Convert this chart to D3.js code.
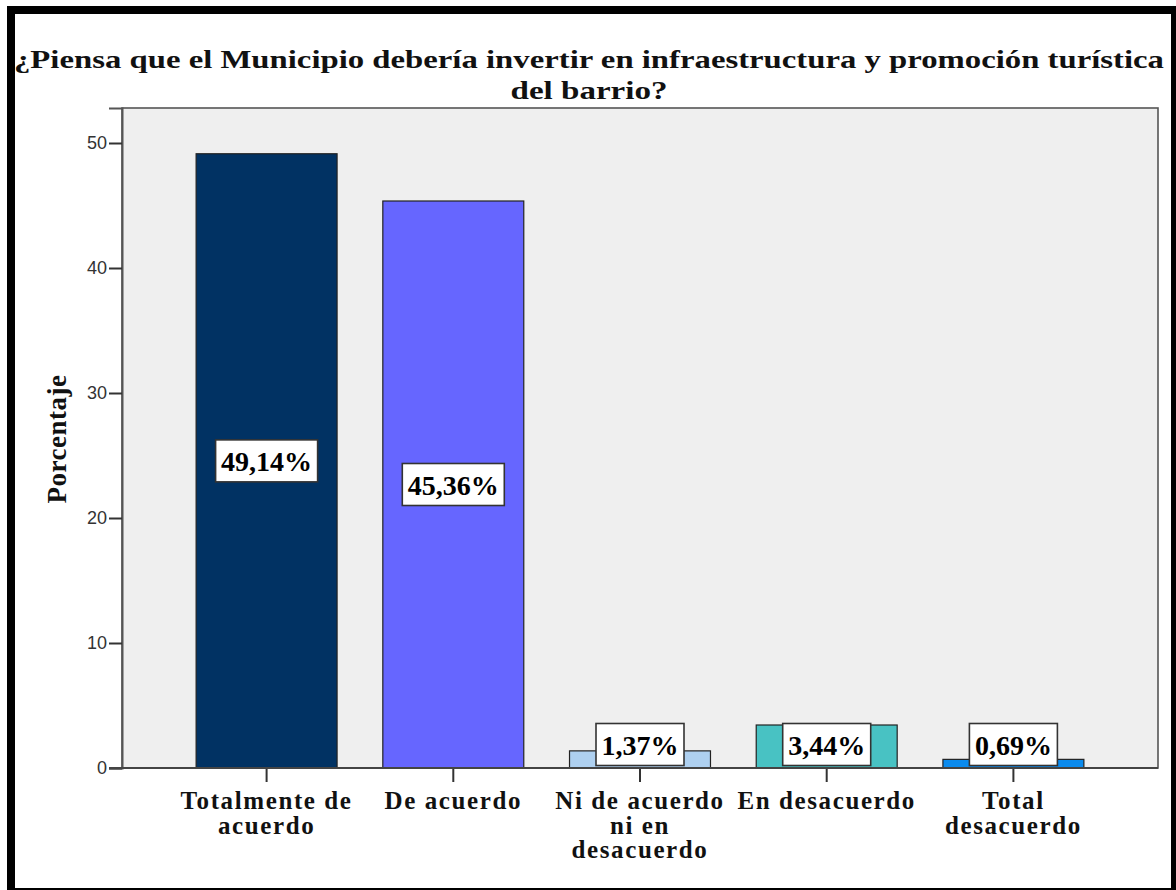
<!DOCTYPE html>
<html>
<head>
<meta charset="utf-8">
<script src="https://cdn.jsdelivr.net/npm/d3@7"></script>
<style>
  html, body { margin: 0; padding: 0; background: #fff; }
  svg { display: block; }
</style>
</head>
<body>
<svg id="chart" width="1176" height="890"></svg>
<script>
// Survey answers and their shares (%)
const categories = [
  ["Totalmente de", "acuerdo"],
  ["De acuerdo"],
  ["Ni de acuerdo", "ni en", "desacuerdo"],
  ["En desacuerdo"],
  ["Total", "desacuerdo"]
];
const values = [49.14, 45.36, 1.37, 3.44, 0.69];
const valueLabels = ["49,14%", "45,36%", "1,37%", "3,44%", "0,69%"];
const barColors = ["#013263", "#6666ff", "#aed0f0", "#48c2c3", "#0b8bee"];
const yTicks = [0, 10, 20, 30, 40, 50];
const titleLines = [
  "¿Piensa que el Municipio debería invertir en infraestructura y promoción turística",
  "del barrio?"
];
const yTitle = "Porcentaje";

const svg = d3.select("#chart");
const W = 1176, H = 890;
const plot = { left: 122, right: 1158, top: 108, bottom: 768 };
const serif = "'Liberation Serif', 'Times New Roman', serif";

// page frame
svg.append("rect").attr("x", 0).attr("y", 0).attr("width", W).attr("height", H).attr("fill", "#fff");
svg.append("rect").attr("x", 7).attr("y", 6).attr("width", W - 7).attr("height", 8).attr("fill", "#000");
svg.append("rect").attr("x", 7).attr("y", 6).attr("width", 8).attr("height", H - 6).attr("fill", "#000");
svg.append("rect").attr("x", 1171).attr("y", 6).attr("width", 5).attr("height", H - 6).attr("fill", "#000");
svg.append("rect").attr("x", 7).attr("y", 888).attr("width", W - 7).attr("height", 2).attr("fill", "#000");

// title (two lines)
svg.append("text")
  .attr("x", 589).attr("y", 68)
  .attr("text-anchor", "middle")
  .attr("font-family", serif).attr("font-weight", "bold").attr("font-size", 26)
  .attr("textLength", 1150).attr("lengthAdjust", "spacingAndGlyphs")
  .attr("fill", "#111")
  .text(titleLines[0]);
svg.append("text")
  .attr("x", 589).attr("y", 98.5)
  .attr("text-anchor", "middle")
  .attr("font-family", serif).attr("font-weight", "bold").attr("font-size", 26)
  .attr("textLength", 157).attr("lengthAdjust", "spacingAndGlyphs")
  .attr("fill", "#111")
  .text(titleLines[1]);

// scales
const x = d3.scaleBand()
  .domain(d3.range(categories.length))
  .range([plot.left, plot.right])
  .paddingInner(0.245)
  .paddingOuter(0.397);
const y = d3.scaleLinear().domain([0, 52.8]).range([plot.bottom, plot.top]);

// plot background
svg.append("rect")
  .attr("x", plot.left).attr("y", plot.top)
  .attr("width", plot.right - plot.left).attr("height", plot.bottom - plot.top)
  .attr("fill", "#efefef").attr("stroke", "#555").attr("stroke-width", 1.6);

// bars
svg.append("g").selectAll("rect")
  .data(values)
  .join("rect")
  .attr("x", (d, i) => x(i))
  .attr("y", d => y(d))
  .attr("width", x.bandwidth())
  .attr("height", d => y(0) - y(d))
  .attr("fill", (d, i) => barColors[i])
  .attr("stroke", "#222").attr("stroke-width", 1.2);

// y axis
const yAxis = svg.append("g")
  .attr("transform", `translate(${plot.left},0)`)
  .call(d3.axisLeft(y).tickValues(yTicks).tickSize(13).tickPadding(2).tickFormat(d3.format("d")));
yAxis.select(".domain").attr("stroke", "#555").attr("stroke-width", 2);
yAxis.selectAll(".tick line").attr("stroke", "#333").attr("stroke-width", 2);
yAxis.selectAll(".tick text")
  .attr("font-family", "'Liberation Sans', Arial, sans-serif")
  .attr("font-size", 18).attr("fill", "#333");

// x axis
const xAxis = svg.append("g")
  .attr("transform", `translate(0,${plot.bottom})`)
  .call(d3.axisBottom(x).tickSize(14).tickFormat(""));
xAxis.select(".domain").remove();
xAxis.selectAll(".tick line").attr("stroke", "#333").attr("stroke-width", 2);
svg.append("line")
  .attr("x1", plot.left - 13).attr("x2", plot.right)
  .attr("y1", plot.bottom).attr("y2", plot.bottom)
  .attr("stroke", "#444").attr("stroke-width", 2);

// category labels
const catG = svg.append("g");
categories.forEach((lines, i) => {
  const t = catG.append("text")
    .attr("x", x(i) + x.bandwidth() / 2)
    .attr("y", 809)
    .attr("text-anchor", "middle")
    .attr("font-family", serif).attr("font-weight", "bold").attr("font-size", 25)
    .attr("letter-spacing", 1.6)
    .attr("fill", "#111");
  lines.forEach((line, k) => {
    t.append("tspan")
      .attr("x", x(i) + x.bandwidth() / 2)
      .attr("dy", k === 0 ? 0 : 24.5)
      .text(line);
  });
});

// y title
svg.append("text")
  .attr("transform", "translate(66,439) rotate(-90)")
  .attr("text-anchor", "middle")
  .attr("font-family", serif).attr("font-weight", "bold").attr("font-size", 27)
  .attr("letter-spacing", 0.5)
  .attr("fill", "#111")
  .text(yTitle);

// value labels in boxes
const labG = svg.append("g");
values.forEach((v, i) => {
  const cx = x(i) + x.bandwidth() / 2;
  const cy = Math.min((y(v) + y(0)) / 2, y(0) - 23.5);
  const g = labG.append("g");
  const box = g.append("rect");
  const t = g.append("text")
    .attr("x", cx).attr("y", cy + 10)
    .attr("text-anchor", "middle")
    .attr("font-family", serif).attr("font-weight", "bold").attr("font-size", 28)
    .attr("fill", "#000")
    .text(valueLabels[i]);
  const w = t.node().getComputedTextLength() + 11;
  box.attr("x", cx - w / 2).attr("y", cy - 21)
    .attr("width", w).attr("height", 42)
    .attr("fill", "#fff").attr("stroke", "#333").attr("stroke-width", 1.6);
});
</script>
</body>
</html>
